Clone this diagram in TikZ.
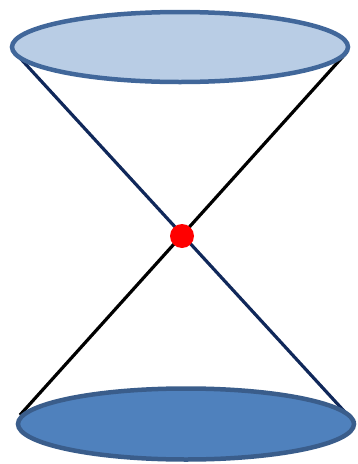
\documentclass[tikz,border=0pt]{standalone}
\usepackage{tikz}
\usetikzlibrary{shapes.geometric}
\definecolor{rimblue}{HTML}{41679A}
\definecolor{topfill}{HTML}{B9CDE5}
\definecolor{basefill}{HTML}{4F81BD}
\definecolor{navyline}{HTML}{10285A}

\begin{document}
\begin{tikzpicture}[
        x=1pt, y=-1pt,
        disc/.style={ellipse, draw=rimblue, line width=4.5pt, minimum width=336pt, minimum height=70pt, inner sep=0pt},
        ray/.style={line width=3.2pt},
        apex/.style={circle, fill=red, minimum size=24pt, inner sep=0pt},
    ]
        \useasboundingbox (0,0) rectangle (357,464);

        % Rim end points of the two generators
        \coordinate (tl) at (20, 58);
        \coordinate (tr) at (347, 52);
        \coordinate (bl) at (20, 415);
        \coordinate (br) at (355, 423);

        % Generators
        \draw[ray, navyline] (tl) -- (br);
        \draw[ray, black] (tr) -- (bl);

        % Upper and lower discs
        \node[disc, fill=topfill] (upper) at (180, 47) {};
        \node[disc, fill=basefill, draw=rimblue!90!black, minimum height=71pt] (lower) at (186, 424) {};

        % Vertex
        \node[apex] (vertex) at (182, 236) {};
    \end{tikzpicture}
\end{document}
